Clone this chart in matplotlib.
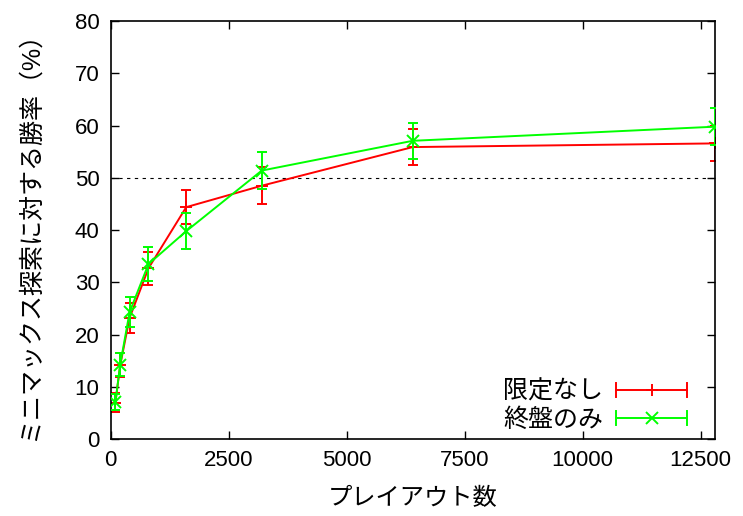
import matplotlib
matplotlib.use("Agg")
import matplotlib.pyplot as plt
from matplotlib.lines import Line2D
from matplotlib.legend_handler import HandlerBase

plt.rcParams['font.family'] = ['Liberation Sans', 'Noto Sans CJK JP', 'DejaVu Sans']

playouts = [100, 200, 400, 800, 1600, 3200, 6400, 12800]
unlimited = [7.0, 14.1, 23.2, 32.7, 44.4, 48.5, 55.9, 56.6]
unlimited_err = [1.8, 2.3, 2.8, 3.2, 3.3, 3.5, 3.45, 3.4]
endgame = [7.1, 14.2, 24.3, 33.5, 39.8, 51.4, 57.1, 59.8]
endgame_err = [1.6, 2.2, 2.9, 3.3, 3.5, 3.5, 3.5, 3.6]
labels = ["限定なし", "終盤のみ"]
baseline = 50
xticks = [0, 2500, 5000, 7500, 10000, 12500]
yticks = [0, 10, 20, 30, 40, 50, 60, 70, 80]

RED = "#ff0000"
GREEN = "#00ff00"

fig = plt.figure(figsize=(7.43, 5.16), dpi=100)
ax = fig.add_axes([0.149, 0.149, 0.813, 0.810])

ax.axhline(baseline, color="black", lw=0.8, ls=(0, (3, 4)), zorder=1)

ax.errorbar(playouts, unlimited, yerr=unlimited_err, color=RED, lw=1.4,
            marker="+", ms=8, mew=1.4, capsize=3.6, capthick=1.4, elinewidth=1.4, zorder=2)
ax.errorbar(playouts, endgame, yerr=endgame_err, color=GREEN, lw=1.4,
            marker="x", ms=8, mew=1.4, capsize=3.6, capthick=1.4, elinewidth=1.4, zorder=3)


class HandlerGnuErr(HandlerBase):
    def __init__(self, color, marker):
        super().__init__()
        self.color = color
        self.marker = marker

    def create_artists(self, legend, orig_handle, xdescent, ydescent, width, height,
                       fontsize, trans):
        y = height / 2 - ydescent
        x0 = -xdescent
        x1 = width - xdescent
        cap = 5
        arts = [
            Line2D([x0, x1], [y, y], color=self.color, lw=1.4),
            Line2D([x0, x0], [y - cap, y + cap], color=self.color, lw=1.4),
            Line2D([x1, x1], [y - cap, y + cap], color=self.color, lw=1.4),
            Line2D([(x0 + x1) / 2], [y], color=self.color, marker=self.marker,
                   ms=8, mew=1.4, ls="none"),
        ]
        for a in arts:
            a.set_transform(trans)
        return arts


h1 = Line2D([], [], color=RED)
h2 = Line2D([], [], color=GREEN)
leg = ax.legend([h1, h2], labels, loc="lower right", frameon=False,
                markerfirst=False, fontsize=18, handlelength=2.85,
                handletextpad=0.5, labelspacing=0.15, borderpad=0,
                bbox_to_anchor=(0.975, -0.012),
                handler_map={h1: HandlerGnuErr(RED, "+"), h2: HandlerGnuErr(GREEN, "x")})

ax.set_xlim(0, 12800)
ax.set_ylim(0, 80)
ax.set_xticks(xticks)
ax.set_yticks(yticks)
ax.tick_params(direction="in", length=6, width=1.0, top=True, right=True,
               labelsize=16, pad=8)
for s in ax.spines.values():
    s.set_linewidth(1.2)

ax.set_xlabel("プレイアウト数", fontsize=17.5, labelpad=12)
ax.set_ylabel("ミニマックス探索に対する勝率（%）", fontsize=18, labelpad=24)

fig.savefig("out.png", dpi=100)
